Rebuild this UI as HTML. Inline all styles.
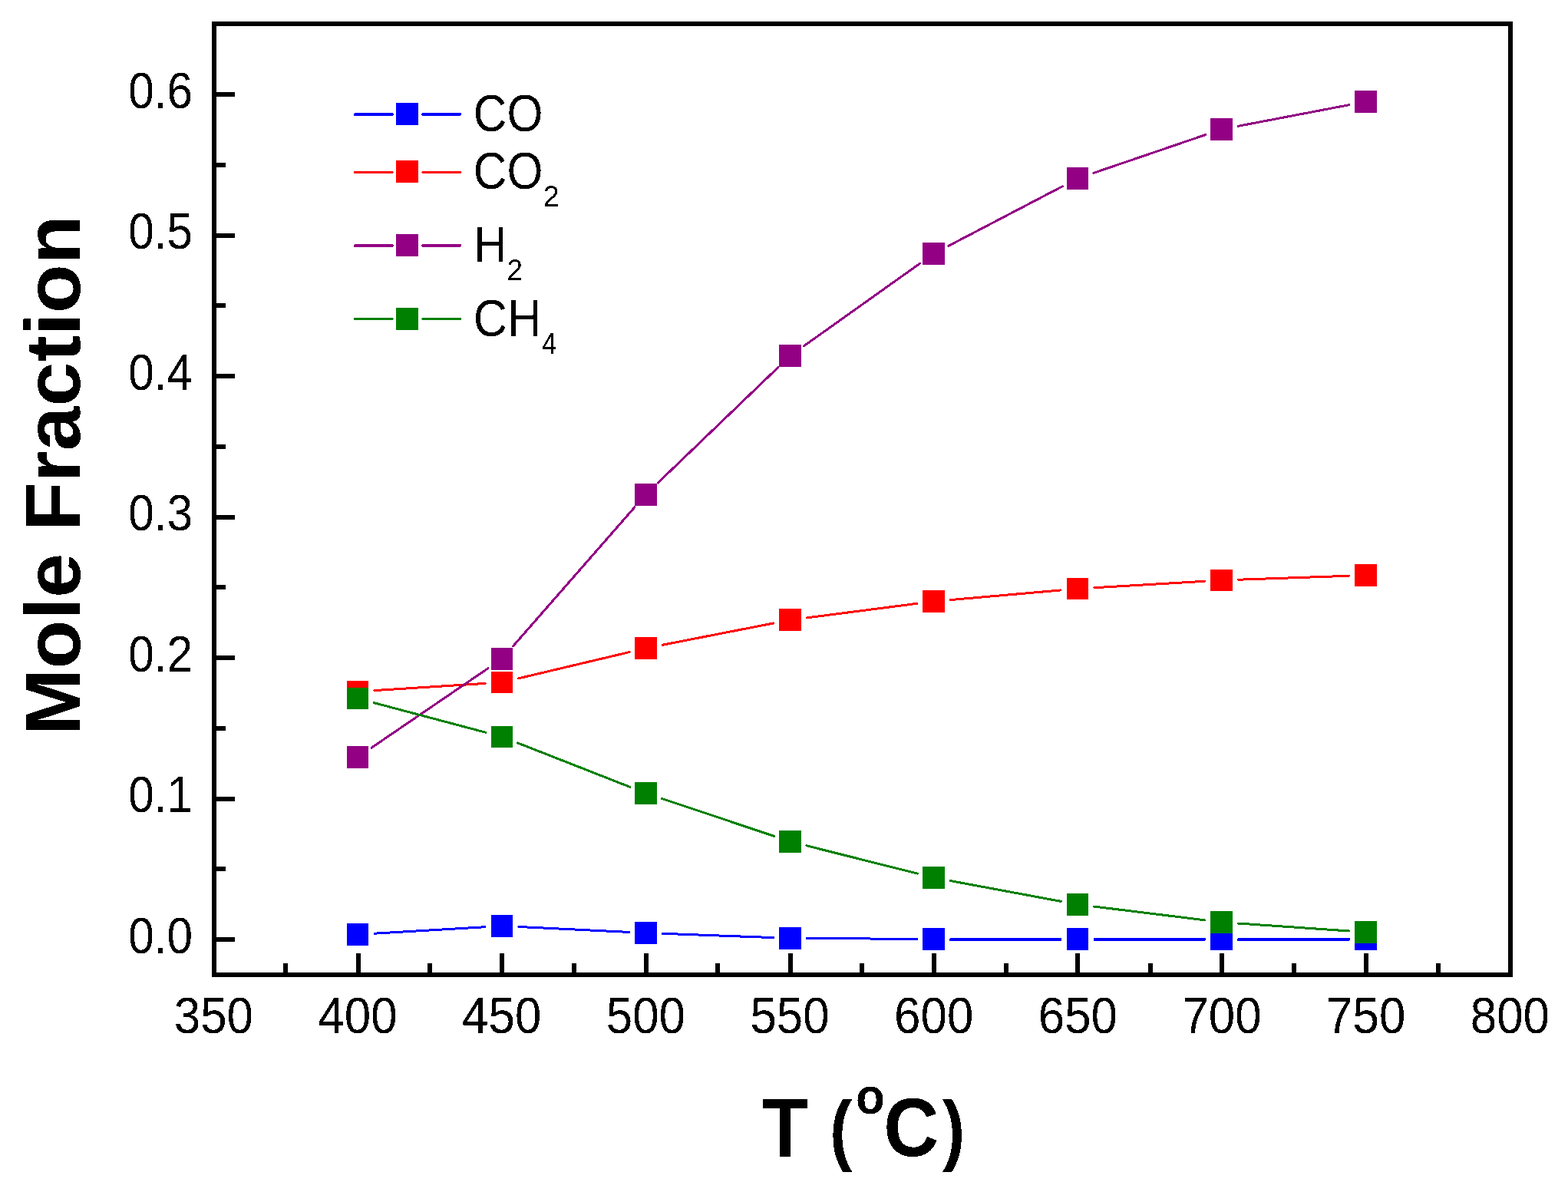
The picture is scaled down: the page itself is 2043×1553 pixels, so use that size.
<!DOCTYPE html><html><head><meta charset="utf-8"><title>Mole Fraction vs T</title><style>html,body{margin:0;padding:0;background:#fff;}svg{display:block;} rect,path{shape-rendering:crispEdges;}</style></head><body>
<svg width="2043" height="1553" viewBox="0 0 2043 1553">
<rect x="0" y="0" width="2043" height="1553" fill="#fff"/>
<defs><filter id="crisp" x="0" y="0" width="2043" height="1553" filterUnits="userSpaceOnUse" primitiveUnits="userSpaceOnUse" color-interpolation-filters="sRGB"><feComponentTransfer><feFuncA type="discrete" tableValues="0 1"/></feComponentTransfer></filter></defs>
<path d="M467 1268V1242 M654 1268V1242 M842 1268V1242 M1030 1268V1242 M1217 1268V1242 M1404 1268V1242 M1592 1268V1242 M1780 1268V1242 M372 1268V1255 M560 1268V1255 M748 1268V1255 M935 1268V1255 M1123 1268V1255 M1311 1268V1255 M1499 1268V1255 M1686 1268V1255 M1874 1268V1255 M281 1224H306 M281 1041H306 M281 857H306 M281 674H306 M281 490H306 M281 307H306 M281 123H306 M281 1132H294 M281 949H294 M281 765H294 M281 582H294 M281 398H294 M281 215H294" stroke="#000" stroke-width="6" fill="none"/>
<rect x="279" y="31" width="1689" height="1239" fill="none" stroke="#000" stroke-width="6"/>
<path d="M487.96 1216.20L632.04 1207.70M675.97 1207.47L819.43 1214.43M863.39 1216.31L1007.61 1221.59M1051.60 1222.53L1194.50 1223.37" stroke="#0000ff" stroke-width="3" stroke-linecap="round" fill="none"/>
<path d="M1239.00 1224.0H1381.50M1426.50 1224.0H1569.00M1614.00 1224.0H1757.00" stroke="#0000ff" stroke-width="4" stroke-linecap="round" fill="none"/>
<rect x="451.65" y="1203.15" width="28.7" height="28.7" fill="#0000ff"/>
<rect x="639.65" y="1192.05" width="28.7" height="28.7" fill="#0000ff"/>
<rect x="827.05" y="1201.15" width="28.7" height="28.7" fill="#0000ff"/>
<rect x="1015.25" y="1208.05" width="28.7" height="28.7" fill="#0000ff"/>
<rect x="1202.15" y="1209.15" width="28.7" height="28.7" fill="#0000ff"/>
<rect x="1389.65" y="1208.95" width="28.7" height="28.7" fill="#0000ff"/>
<rect x="1577.15" y="1209.15" width="28.7" height="28.7" fill="#0000ff"/>
<rect x="1765.15" y="1209.15" width="28.7" height="28.7" fill="#0000ff"/>
<path d="M487.96 899.60L632.04 890.40M675.40 883.92L820.00 849.58M862.99 840.28L1008.01 811.92M1051.42 804.88L1194.68 786.32M1238.42 781.57L1382.08 768.93M1425.96 765.71L1569.54 757.29M1613.49 755.24L1757.51 750.26" stroke="#ff0000" stroke-width="3" stroke-linecap="round" fill="none"/>
<rect x="451.65" y="886.65" width="28.7" height="28.7" fill="#ff0000"/>
<rect x="639.65" y="874.65" width="28.7" height="28.7" fill="#ff0000"/>
<rect x="827.05" y="830.15" width="28.7" height="28.7" fill="#ff0000"/>
<rect x="1015.25" y="793.35" width="28.7" height="28.7" fill="#ff0000"/>
<rect x="1202.15" y="769.15" width="28.7" height="28.7" fill="#ff0000"/>
<rect x="1389.65" y="752.65" width="28.7" height="28.7" fill="#ff0000"/>
<rect x="1577.15" y="741.65" width="28.7" height="28.7" fill="#ff0000"/>
<rect x="1765.15" y="735.15" width="28.7" height="28.7" fill="#ff0000"/>
<path d="M484.18 974.11L635.82 870.79M668.49 841.85L826.91 660.85M857.27 629.06L1013.73 478.74M1047.52 450.74L1198.58 343.26M1236.00 320.31L1384.50 242.69M1424.82 225.39L1570.68 175.61M1613.11 164.36L1757.89 136.64" stroke="#930084" stroke-width="3" stroke-linecap="round" fill="none"/>
<rect x="451.65" y="972.15" width="28.7" height="28.7" fill="#930084"/>
<rect x="639.65" y="844.05" width="28.7" height="28.7" fill="#930084"/>
<rect x="827.05" y="629.95" width="28.7" height="28.7" fill="#930084"/>
<rect x="1015.25" y="449.15" width="28.7" height="28.7" fill="#930084"/>
<rect x="1202.15" y="316.15" width="28.7" height="28.7" fill="#930084"/>
<rect x="1389.65" y="218.15" width="28.7" height="28.7" fill="#930084"/>
<rect x="1577.15" y="154.15" width="28.7" height="28.7" fill="#930084"/>
<rect x="1765.15" y="118.15" width="28.7" height="28.7" fill="#930084"/>
<path d="M487.26 915.64L632.74 954.26M674.48 967.93L820.92 1025.37M862.26 1040.38L1008.74 1089.42M1050.93 1101.78L1195.17 1138.12M1238.13 1147.53L1382.37 1174.37M1425.83 1181.09L1569.67 1198.81M1613.45 1203.02L1757.55 1212.98" stroke="#008000" stroke-width="3" stroke-linecap="round" fill="none"/>
<rect x="451.65" y="895.65" width="28.7" height="28.7" fill="#008000"/>
<rect x="639.65" y="945.55" width="28.7" height="28.7" fill="#008000"/>
<rect x="827.05" y="1019.05" width="28.7" height="28.7" fill="#008000"/>
<rect x="1015.25" y="1082.05" width="28.7" height="28.7" fill="#008000"/>
<rect x="1202.15" y="1129.15" width="28.7" height="28.7" fill="#008000"/>
<rect x="1389.65" y="1164.05" width="28.7" height="28.7" fill="#008000"/>
<rect x="1577.15" y="1187.15" width="28.7" height="28.7" fill="#008000"/>
<rect x="1765.15" y="1200.15" width="28.7" height="28.7" fill="#008000"/>
<path d="M463.0 149H510.79999999999995M551.2 149H599.0" stroke="#0000ff" stroke-width="4" stroke-linecap="round" fill="none"/>
<rect x="516.1" y="134.10" width="29" height="28.8" fill="#0000ff"/>
<path d="M462.5 224.5H511.29999999999995M550.7 224.5H599.5" stroke="#ff0000" stroke-width="3" stroke-linecap="round" fill="none"/>
<rect x="516.1" y="209.00" width="29" height="28.8" fill="#ff0000"/>
<path d="M463.0 320H510.79999999999995M551.2 320H599.0" stroke="#930084" stroke-width="4" stroke-linecap="round" fill="none"/>
<rect x="516.1" y="304.90" width="29" height="28.8" fill="#930084"/>
<path d="M462.5 415.5H511.29999999999995M550.7 415.5H599.5" stroke="#008000" stroke-width="3" stroke-linecap="round" fill="none"/>
<rect x="516.1" y="400.80" width="29" height="28.8" fill="#008000"/>
<g filter="url(#crisp)">
<g transform="matrix(0.94292,0,0,1.04494,167.171,1241.598)"><text font-family="Liberation Sans, Arial, sans-serif" font-size="64" x="0" y="0">0.0</text></g>
<g transform="matrix(0.94292,0,0,1.04494,167.171,1058.098)"><text font-family="Liberation Sans, Arial, sans-serif" font-size="64" x="0" y="0">0.1</text></g>
<g transform="matrix(0.94292,0,0,1.04494,167.171,874.598)"><text font-family="Liberation Sans, Arial, sans-serif" font-size="64" x="0" y="0">0.2</text></g>
<g transform="matrix(0.94292,0,0,1.04494,167.171,691.098)"><text font-family="Liberation Sans, Arial, sans-serif" font-size="64" x="0" y="0">0.3</text></g>
<g transform="matrix(0.94292,0,0,1.04494,167.171,507.598)"><text font-family="Liberation Sans, Arial, sans-serif" font-size="64" x="0" y="0">0.4</text></g>
<g transform="matrix(0.94292,0,0,1.04494,167.171,324.098)"><text font-family="Liberation Sans, Arial, sans-serif" font-size="64" x="0" y="0">0.5</text></g>
<g transform="matrix(0.94292,0,0,1.04494,167.171,140.598)"><text font-family="Liberation Sans, Arial, sans-serif" font-size="64" x="0" y="0">0.6</text></g>
<g transform="matrix(0.96703,0,0,1.03603,278.40,1346.198)"><text font-family="Liberation Sans, Arial, sans-serif" font-size="64" x="0" y="0" text-anchor="middle">350</text></g>
<g transform="matrix(0.96703,0,0,1.03603,466.07,1346.198)"><text font-family="Liberation Sans, Arial, sans-serif" font-size="64" x="0" y="0" text-anchor="middle">400</text></g>
<g transform="matrix(0.96703,0,0,1.03603,653.73,1346.198)"><text font-family="Liberation Sans, Arial, sans-serif" font-size="64" x="0" y="0" text-anchor="middle">450</text></g>
<g transform="matrix(0.96703,0,0,1.03603,841.40,1346.198)"><text font-family="Liberation Sans, Arial, sans-serif" font-size="64" x="0" y="0" text-anchor="middle">500</text></g>
<g transform="matrix(0.96703,0,0,1.03603,1029.07,1346.198)"><text font-family="Liberation Sans, Arial, sans-serif" font-size="64" x="0" y="0" text-anchor="middle">550</text></g>
<g transform="matrix(0.96703,0,0,1.03603,1216.73,1346.198)"><text font-family="Liberation Sans, Arial, sans-serif" font-size="64" x="0" y="0" text-anchor="middle">600</text></g>
<g transform="matrix(0.96703,0,0,1.03603,1404.40,1346.198)"><text font-family="Liberation Sans, Arial, sans-serif" font-size="64" x="0" y="0" text-anchor="middle">650</text></g>
<g transform="matrix(0.96703,0,0,1.03603,1592.07,1346.198)"><text font-family="Liberation Sans, Arial, sans-serif" font-size="64" x="0" y="0" text-anchor="middle">700</text></g>
<g transform="matrix(0.96703,0,0,1.03603,1779.73,1346.198)"><text font-family="Liberation Sans, Arial, sans-serif" font-size="64" x="0" y="0" text-anchor="middle">750</text></g>
<g transform="matrix(0.96703,0,0,1.03603,1967.40,1346.198)"><text font-family="Liberation Sans, Arial, sans-serif" font-size="64" x="0" y="0" text-anchor="middle">800</text></g>
<g transform="matrix(0.94444,0,0,1.07626,616.767,171.000)"><text font-family="Liberation Sans, Arial, sans-serif" font-size="64" x="0" y="0">CO</text></g>
<g transform="matrix(0.94444,0,0,1.07626,616.767,246.000)"><text font-family="Liberation Sans, Arial, sans-serif" font-size="64" x="0" y="0">CO</text></g>
<g transform="matrix(0.98968,0,0,1.00803,707.631,268.601)"><text font-family="Liberation Sans, Arial, sans-serif" font-size="38" x="0" y="0">2</text></g>
<g transform="matrix(0.93338,0,0,1.00892,617.333,341.000)"><text font-family="Liberation Sans, Arial, sans-serif" font-size="64" x="0" y="0">H</text></g>
<g transform="matrix(0.97668,0,0,1.01490,660.443,365.000)"><text font-family="Liberation Sans, Arial, sans-serif" font-size="38" x="0" y="0">2</text></g>
<g transform="matrix(0.95715,0,0,1.06715,616.728,437.598)"><text font-family="Liberation Sans, Arial, sans-serif" font-size="64" x="0" y="0">CH</text></g>
<g transform="matrix(0.87387,0,0,1.02316,706.126,460.598)"><text font-family="Liberation Sans, Arial, sans-serif" font-size="38" x="0" y="0">4</text></g>
<g transform="matrix(0.90625,0,0,1.01893,993.094,1507.000)"><text font-family="Liberation Sans, Arial, sans-serif" font-weight="bold" font-size="108" x="0" y="0">T</text></g>
<g transform="matrix(0.81943,0,0,0.94625,1080.903,1505.808)"><text font-family="Liberation Sans, Arial, sans-serif" font-weight="bold" font-size="108" x="0" y="0">(</text></g>
<g transform="matrix(0.97059,0,0,1.03567,1115.088,1451.195)"><text font-family="Liberation Sans, Arial, sans-serif" font-weight="bold" font-size="64" x="0" y="0">o</text></g>
<g transform="matrix(0.92409,0,0,0.98952,1151.304,1506.211)"><text font-family="Liberation Sans, Arial, sans-serif" font-weight="bold" font-size="108" x="0" y="0">C</text></g>
<g transform="matrix(0.81349,0,0,0.94625,1228.000,1505.808)"><text font-family="Liberation Sans, Arial, sans-serif" font-weight="bold" font-size="108" x="0" y="0">)</text></g>
<g transform="matrix(0.94937,0,0,0.96541,104.051,958.359)"><text font-family="Liberation Sans, Arial, sans-serif" font-weight="bold" font-size="108" x="0" y="0" transform="rotate(-90)">Mole Fraction</text></g>
</g>
</svg></body></html>
